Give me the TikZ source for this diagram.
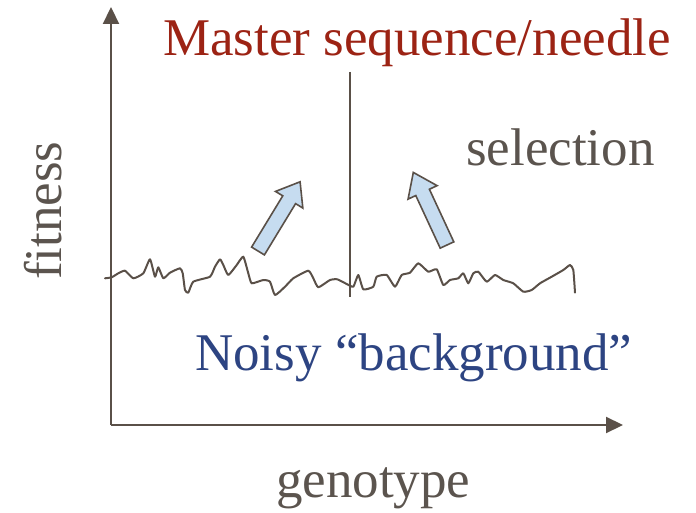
\documentclass[tikz,border=0pt]{standalone}
\usepackage{fontspec}
\setmainfont{Liberation Serif}
\usetikzlibrary{arrows.meta}
\definecolor{axisgray}{HTML}{5A5048}
\definecolor{textgray}{HTML}{5B544E}
\definecolor{needlered}{HTML}{9C2314}
\definecolor{noiseblue}{HTML}{2D4482}
\definecolor{arrowfill}{HTML}{C6DCF0}
\tikzset{
  bigtext/.style={inner sep=0pt, font=\fontsize{53}{60}\selectfont},
  axisline/.style={draw=axisgray, line width=2.2pt, -{Triangle[length=17pt,width=16pt]}},
  noiseline/.style={draw=axisgray, line width=2pt, line join=round, line cap=round},
  blockarrow/.style={draw=axisgray, fill=arrowfill, line width=1.6pt, line join=miter}
}
\begin{document}
\begin{tikzpicture}[x=1pt,y=-1pt]
\useasboundingbox (0,0) rectangle (696,513);
% axes
\coordinate (origin) at (111,425);
\coordinate (ytip) at (111,7);
\coordinate (xtip) at (623,425);
\draw[axisline] (origin) -- (ytip);
\draw[axisline] (origin) -- (xtip);
% needle
\coordinate (ntop) at (350,72);
\coordinate (nbot) at (350,297);
\draw[draw=axisgray, line width=2pt] (ntop) -- (nbot);
% noisy landscape
\draw[noiseline] plot[smooth, tension=0.3] coordinates {(105,278.3) (111.7,277.3) (118.3,273.3) (125,270.7) (133.3,278.3) (143.3,273.3) (150,259.3) (155,276.7) (158.3,267.3) (163.3,278.3) (170,272.7) (180,268.3) (182.7,273.3) (185,290) (188.3,292.7) (193.3,281.7) (210,276.7) (215,266.7) (220,259.3) (223.3,265) (228.3,275) (236.7,265) (243.3,256.7) (248.3,273.3) (251.7,283.3) (263.3,280) (270,281.7) (275,295) (285,286.7) (293.3,278.3) (308.3,270.7) (313.3,278.3) (318.3,287.3) (330,280) (337.3,279.3) (346.7,284) (353.3,286.7) (358.3,275) (363.3,289.3) (373.3,286.7) (376.7,276.7) (386.7,275) (395,286.7) (401.7,275) (410,272.7) (418.3,263.3) (428.3,271.7) (436.7,269.3) (443.3,285) (450,280) (458.3,278.3) (463.3,273.3) (468.3,283.3) (473.3,273.3) (478.3,271.7) (486.7,281.7) (495,275) (503.3,280) (513.3,283.3) (523.3,291.7) (531.7,290) (540,283.3) (551.7,276.7) (563.3,270) (570,265) (573.3,270) (575,292.7)};
% selection arrows
\begin{scope}[shift={(258,251)}, rotate=58.7]
\draw[blockarrow] (0,-7.5) -- (60,-7.5) -- (60,-16) -- (81,0) -- (60,16) -- (60,7.5) -- (0,7.5) -- cycle;
\end{scope}
\begin{scope}[shift={(447,245)}, rotate=114.9]
\draw[blockarrow] (0,-7.5) -- (58,-7.5) -- (58,-16) -- (80,0) -- (58,16) -- (58,7.5) -- (0,7.5) -- cycle;
\end{scope}
% labels
\node[bigtext, text=needlered, anchor=base west] (master) at (163,56) {Master sequence/needle};
\node[bigtext, text=textgray, anchor=base west] (selection) at (466,166) {selection};
\node[bigtext, text=noiseblue, anchor=base west] (noisy) at (195,370) {Noisy “background”};
\node[bigtext, text=textgray, anchor=base west] (genotype) at (276,497) {genotype};
\node[bigtext, text=textgray, anchor=base west, rotate=90] (fitness) at (61,280) {fitness};
\end{tikzpicture}
\end{document}
